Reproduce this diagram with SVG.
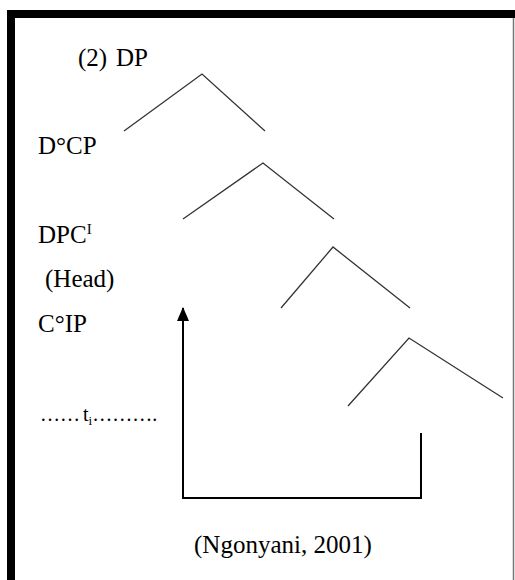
<svg xmlns="http://www.w3.org/2000/svg" width="515" height="580" viewBox="0 0 515 580">
<style>
text{font-family:'Liberation Serif','Times New Roman','DejaVu Serif',serif;font-size:25px;fill:#000}
.br{fill:none;stroke:#333;stroke-width:1.3}
.ln{fill:none;stroke:#000;stroke-width:2}
</style>
<defs>
<marker id="ah" viewBox="0 0 14 12" refX="13" refY="6" markerWidth="14" markerHeight="12" markerUnits="userSpaceOnUse" orient="auto">
<path d="M0,0 L14,6 L0,12 Z" fill="#000"/>
</marker>
</defs>
<rect x="0" y="0" width="515" height="580" fill="#fff"/>
<g id="frame">
<rect x="7" y="10" width="508" height="8" fill="#000"/>
<rect x="7" y="10" width="8" height="570" fill="#000"/>
<line x1="513.5" y1="18" x2="513.5" y2="580" stroke="#777" stroke-width="1.5"/>
</g>
<g id="labels">
<g id="n-dp"><text x="78" y="66">(2)<tspan x="116">DP</tspan></text></g>
<g id="n-dcp"><text x="38" y="154">D°CP</text></g>
<g id="n-dpc"><text x="38" y="243">DPC<tspan style="font-size:15px" dy="-9">I</tspan></text></g>
<g id="n-head"><text x="45" y="287">(Head)</text></g>
<g id="n-cip"><text x="38" y="332">C°IP</text></g>
<g id="n-trace"><text x="40" y="421" style="font-size:20px">……<tspan dx="3">t</tspan><tspan style="font-size:13px" dy="4">i</tspan><tspan dy="-4">……….</tspan></text></g>
<g id="n-cite"><text x="194" y="553">(Ngonyani, 2001)</text></g>
</g>
<g id="connectors">
<polyline class="br" points="124,131 202,74 265,131"/>
<polyline class="br" points="183,219 263,163 334,219"/>
<polyline class="br" points="281,308 333,247 410,308"/>
<polyline class="br" points="348,406 409,338 503,398"/>
<polyline class="ln" points="421,433 421,498 183,498 183,308" marker-end="url(#ah)"/>
</g>
</svg>
